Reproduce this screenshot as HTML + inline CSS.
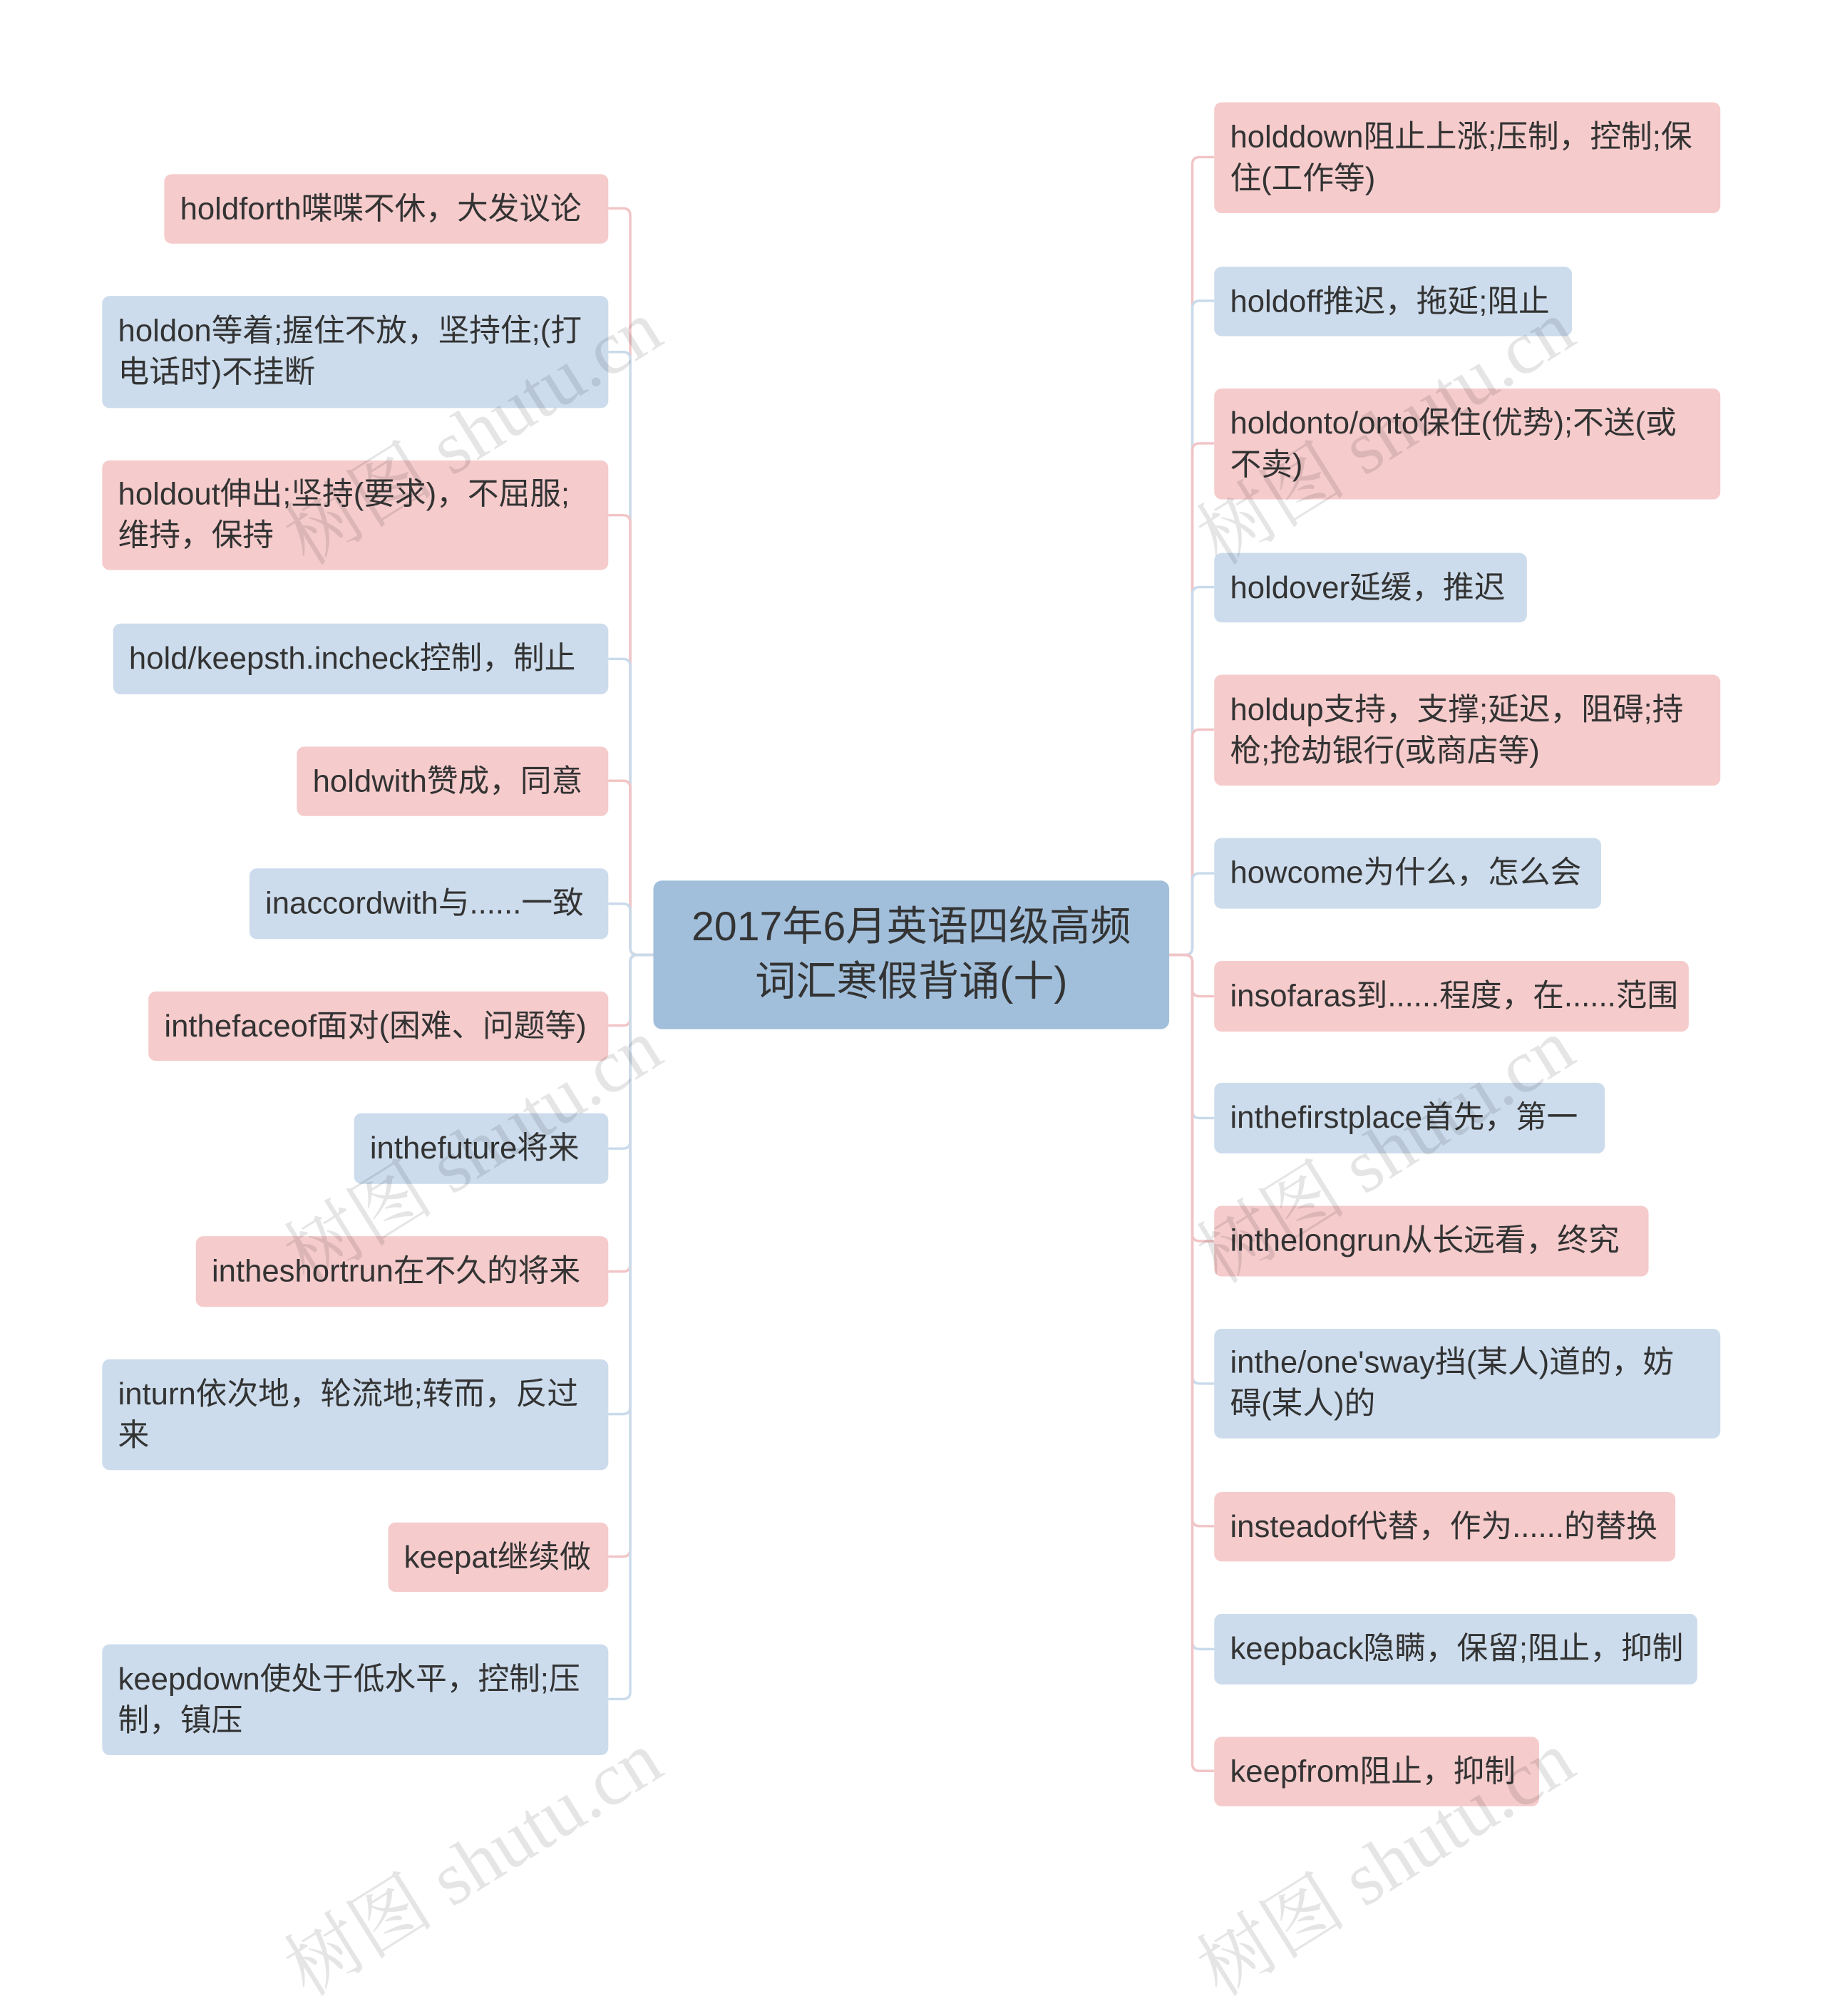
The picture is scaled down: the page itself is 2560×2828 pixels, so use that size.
<!DOCTYPE html>
<html><head><meta charset="utf-8"><style>
html,body{margin:0;padding:0;background:#fff;}
body{width:2560px;height:2679px;overflow:hidden;position:relative;}
#c{position:absolute;left:0;top:0;width:1500px;height:1568px;transform-origin:0 0;transform:scale(1.70667,1.70855);}
.n{position:absolute;box-sizing:border-box;border-radius:6px;padding:0 0 0 13px;font-family:"Liberation Sans","Noto Sans CJK SC",sans-serif;font-size:25.6px;line-height:34px;color:#333;display:flex;align-items:center;white-space:nowrap;}
.p{background:#f5cbcc;}
.b{background:#ccdcec;}
.ctr{position:absolute;left:537px;top:723px;width:424px;height:122px;background:#a1bfdb;border-radius:7px;font-family:"Liberation Sans","Noto Sans CJK SC",sans-serif;font-size:33.5px;line-height:45px;color:#333;display:flex;align-items:center;justify-content:center;text-align:center;white-space:nowrap;}
svg{position:absolute;left:0;top:0;}
.wm{position:absolute;font-family:"Liberation Serif","Noto Serif CJK SC",serif;font-size:62px;color:rgba(0,0,0,0.10);transform:rotate(-32deg);transform-origin:0 0;white-space:nowrap;}
</style></head><body><div id="c">
<svg width="1500" height="1568" fill="none" stroke-width="2">
<path stroke="#f2c4c6" d="M537,784H524Q518,784 518,778V177Q518,171 512,171H500"/>
<path stroke="#c9dbeb" d="M537,784H524Q518,784 518,778V295Q518,289 512,289H500"/>
<path stroke="#f2c4c6" d="M537,784H524Q518,784 518,778V429Q518,423 512,423H500"/>
<path stroke="#c9dbeb" d="M537,784H524Q518,784 518,778V547Q518,541 512,541H500"/>
<path stroke="#f2c4c6" d="M537,784H524Q518,784 518,778V647Q518,641 512,641H500"/>
<path stroke="#c9dbeb" d="M537,784H524Q518,784 518,778V748Q518,742 512,742H500"/>
<path stroke="#f2c4c6" d="M537,784H524Q518,784 518,790V836Q518,842 512,842H500"/>
<path stroke="#c9dbeb" d="M537,784H524Q518,784 518,790V937Q518,943 512,943H500"/>
<path stroke="#f2c4c6" d="M537,784H524Q518,784 518,790V1038Q518,1044 512,1044H500"/>
<path stroke="#c9dbeb" d="M537,784H524Q518,784 518,790V1155Q518,1161 512,1161H500"/>
<path stroke="#f2c4c6" d="M537,784H524Q518,784 518,790V1272Q518,1278 512,1278H500"/>
<path stroke="#c9dbeb" d="M537,784H524Q518,784 518,790V1389Q518,1395 512,1395H500"/>

<path stroke="#f2c4c6" d="M961,784H974Q980,784 980,778V135Q980,129 986,129H998"/>
<path stroke="#c9dbeb" d="M961,784H974Q980,784 980,778V253Q980,247 986,247H998"/>
<path stroke="#f2c4c6" d="M961,784H974Q980,784 980,778V370Q980,364 986,364H998"/>
<path stroke="#c9dbeb" d="M961,784H974Q980,784 980,778V488Q980,482 986,482H998"/>
<path stroke="#f2c4c6" d="M961,784H974Q980,784 980,778V605Q980,599 986,599H998"/>
<path stroke="#c9dbeb" d="M961,784H974Q980,784 980,778V723Q980,717 986,717H998"/>
<path stroke="#f2c4c6" d="M961,784H974Q980,784 980,790V812Q980,818 986,818H998"/>
<path stroke="#c9dbeb" d="M961,784H974Q980,784 980,790V912Q980,918 986,918H998"/>
<path stroke="#f2c4c6" d="M961,784H974Q980,784 980,790V1013Q980,1019 986,1019H998"/>
<path stroke="#c9dbeb" d="M961,784H974Q980,784 980,790V1130Q980,1136 986,1136H998"/>
<path stroke="#f2c4c6" d="M961,784H974Q980,784 980,790V1247Q980,1253 986,1253H998"/>
<path stroke="#c9dbeb" d="M961,784H974Q980,784 980,790V1348Q980,1354 986,1354H998"/>
<path stroke="#f2c4c6" d="M961,784H974Q980,784 980,790V1448Q980,1454 986,1454H998"/>
</svg>

<div class="ctr">2017年6月英语四级高频<br>词汇寒假背诵(十)</div>

<div class="n p" style="left:135px;top:143px;width:365px;height:57px">holdforth喋喋不休，大发议论</div>
<div class="n b" style="left:84px;top:243px;width:416px;height:92px">holdon等着;握住不放，坚持住;(打<br>电话时)不挂断</div>
<div class="n p" style="left:84px;top:378px;width:416px;height:90px">holdout伸出;坚持(要求)，不屈服;<br>维持，保持</div>
<div class="n b" style="left:93px;top:512px;width:407px;height:58px">hold/keepsth.incheck控制，制止</div>
<div class="n p" style="left:244px;top:613px;width:256px;height:57px">holdwith赞成，同意</div>
<div class="n b" style="left:205px;top:713px;width:295px;height:58px">inaccordwith与......一致</div>
<div class="n p" style="left:122px;top:814px;width:378px;height:57px">inthefaceof面对(困难、问题等)</div>
<div class="n b" style="left:291px;top:914px;width:209px;height:58px">inthefuture将来</div>
<div class="n p" style="left:161px;top:1015px;width:339px;height:58px">intheshortrun在不久的将来</div>
<div class="n b" style="left:84px;top:1116px;width:416px;height:91px">inturn依次地，轮流地;转而，反过<br>来</div>
<div class="n p" style="left:319px;top:1250px;width:181px;height:57px">keepat继续做</div>
<div class="n b" style="left:84px;top:1350px;width:416px;height:91px">keepdown使处于低水平，控制;压<br>制，镇压</div>

<div class="n p" style="left:998px;top:84px;width:416px;height:91px">holddown阻止上涨;压制，控制;保<br>住(工作等)</div>
<div class="n b" style="left:998px;top:219px;width:294px;height:57px">holdoff推迟，拖延;阻止</div>
<div class="n p" style="left:998px;top:319px;width:416px;height:91px">holdonto/onto保住(优势);不送(或<br>不卖)</div>
<div class="n b" style="left:998px;top:454px;width:257px;height:57px">holdover延缓，推迟</div>
<div class="n p" style="left:998px;top:554px;width:416px;height:91px">holdup支持，支撑;延迟，阻碍;持<br>枪;抢劫银行(或商店等)</div>
<div class="n b" style="left:998px;top:688px;width:318px;height:58px">howcome为什么，怎么会</div>
<div class="n p" style="left:998px;top:789px;width:390px;height:58px">insofaras到......程度，在......范围</div>
<div class="n b" style="left:998px;top:889px;width:321px;height:58px">inthefirstplace首先，第一</div>
<div class="n p" style="left:998px;top:990px;width:357px;height:58px">inthelongrun从长远看，终究</div>
<div class="n b" style="left:998px;top:1091px;width:416px;height:90px">inthe/one'sway挡(某人)道的，妨<br>碍(某人)的</div>
<div class="n p" style="left:998px;top:1225px;width:379px;height:57px">insteadof代替，作为......的替换</div>
<div class="n b" style="left:998px;top:1325px;width:397px;height:58px">keepback隐瞒，保留;阻止，抑制</div>
<div class="n p" style="left:998px;top:1426px;width:267px;height:57px">keepfrom阻止，抑制</div>

<div class="wm" style="left:215px;top:405px">树图 shutu.cn</div>
<div class="wm" style="left:215px;top:995px">树图 shutu.cn</div>
<div class="wm" style="left:215px;top:1580px">树图 shutu.cn</div>
<div class="wm" style="left:965px;top:405px">树图 shutu.cn</div>
<div class="wm" style="left:965px;top:995px">树图 shutu.cn</div>
<div class="wm" style="left:965px;top:1580px">树图 shutu.cn</div>
</div></body></html>
